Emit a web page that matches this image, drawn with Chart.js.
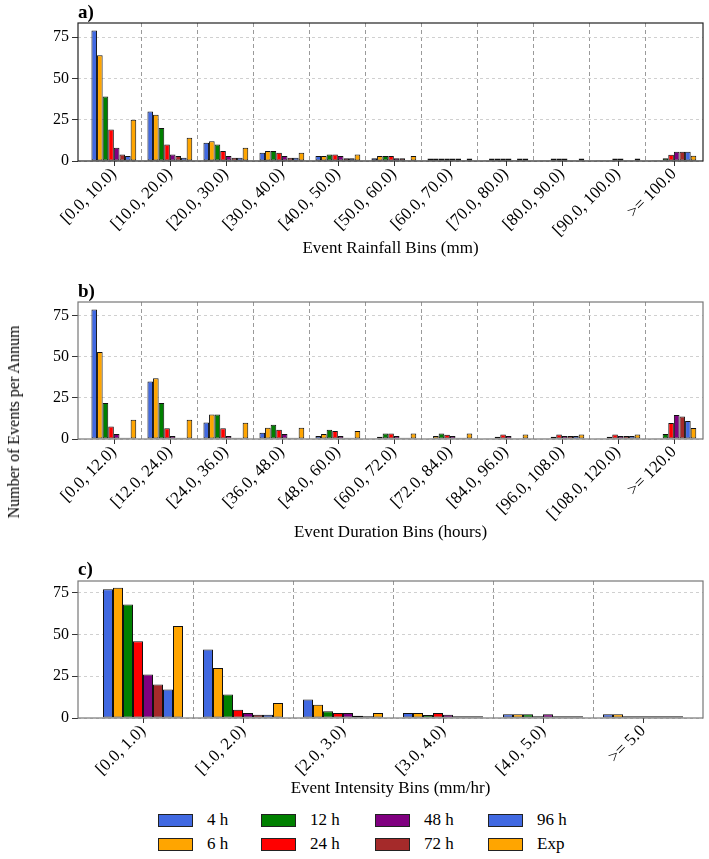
<!DOCTYPE html>
<html>
<head>
<meta charset="utf-8">
<script src="https://cdn.jsdelivr.net/npm/chart.js@4.4.1/dist/chart.umd.min.js"></script>
<style>
  body { margin: 0; background: #fff; font-family: "Liberation Serif", "Times New Roman", serif; }
  #page { position: relative; width: 709px; height: 859px; overflow: hidden; }
  .panel { position: absolute; left: 0; width: 709px; }
  .tag { position: absolute; left: 78px; font-weight: bold; font-size: 19px; color: #000; }
  #ylabel { position: absolute; left: 14px; top: 422px; transform: translate(-50%, -50%) rotate(-90deg);
    font-size: 16px; white-space: nowrap; color: #000; }
  #legend { position: absolute; left: 0; top: 808px; width: 709px; height: 50px; }
  .item { position: absolute; display: flex; align-items: center; font-size: 17px; line-height: 20px; color: #000; }
  .swatch { width: 33px; height: 11px; border: 1px solid #222; margin-right: 14px; }
</style>
</head>
<body>
<div id="page">
  <div class="panel" style="top:0px;height:261px"><canvas id="chartA"></canvas></div>
  <div class="panel" style="top:280px;height:265px"><canvas id="chartB"></canvas></div>
  <div class="panel" style="top:560px;height:241px"><canvas id="chartC"></canvas></div>
  <div class="tag" style="top:1px">a)</div>
  <div class="tag" style="top:280px">b)</div>
  <div class="tag" style="top:558px">c)</div>
  <div id="ylabel">Number of Events per Annum</div>
  <div id="legend"></div>
</div>
<script>
// series (same for all three panels)
const seriesNames = ['4 h', '6 h', '12 h', '24 h', '48 h', '72 h', '96 h', 'Exp'];
const seriesColors = ['#4169E1', '#FFA500', '#008000', '#FF0000', '#800080', '#A52A2A', '#4169E1', '#FFA500'];

// a) rainfall bins
const rainfallBins = ['[0.0, 10.0)', '[10.0, 20.0)', '[20.0, 30.0)', '[30.0, 40.0)', '[40.0, 50.0)',
  '[50.0, 60.0)', '[60.0, 70.0)', '[70.0, 80.0)', '[80.0, 90.0)', '[90.0, 100.0)', '>= 100.0'];
const rainfallCounts = [
  [79, 30, 11, 5, 3, 1.6, 1.5, 0.5, 0.5, 0.5, 0.5],
  [64, 28, 12, 6, 3, 3, 1.5, 1.5, 0.5, 0.5, 0.5],
  [39, 20, 10, 6, 4, 3, 1.5, 1.5, 1.5, 0.5, 1.6],
  [19, 10, 6, 5, 4, 3, 1.5, 1.5, 1.5, 1.5, 3.8],
  [8, 4, 3, 3, 3, 1.6, 1.5, 1.5, 1.5, 1.5, 5.6],
  [4, 3, 2, 2, 1.6, 1.6, 1.5, 0.5, 0.5, 0.5, 5.6],
  [3, 2, 2, 2, 1.6, 0.5, 0.5, 1.5, 0.5, 0.5, 5.6],
  [25, 14, 8, 5, 4, 3, 1.5, 1.5, 1.5, 1.5, 3.2]
];

// b) duration bins
const durationBins = ['[0.0, 12.0)', '[12.0, 24.0)', '[24.0, 36.0)', '[36.0, 48.0)', '[48.0, 60.0)',
  '[60.0, 72.0)', '[72.0, 84.0)', '[84.0, 96.0)', '[96.0, 108.0)', '[108.0, 120.0)', '>= 120.0'];
const durationCounts = [
  [79, 35, 10, 3.8, 1.8, 0.4, 0.4, 0.4, 0.4, 0.4, 0.4],
  [53, 37, 15, 6.8, 3, 1.4, 1.8, 0.4, 0.4, 0.4, 0.4],
  [22, 22, 15, 8.7, 5.6, 3.4, 3.4, 1.4, 1.4, 1.4, 3],
  [7.6, 6.6, 6.6, 5.6, 4.8, 3.4, 2.6, 2.8, 2.8, 2.8, 9.7],
  [3, 1.8, 1.8, 3, 1.8, 1.8, 1.8, 1.8, 1.8, 1.8, 14.7],
  [0.8, 0.8, 0.8, 0.8, 0.8, 0.8, 0.8, 0.4, 1.8, 1.8, 13.7],
  [0.8, 0.8, 0.8, 0.8, 0.8, 0.8, 0.8, 0.4, 1.8, 1.8, 10.9],
  [11.7, 11.7, 9.9, 6.8, 4.8, 3.4, 3.4, 2.8, 2.8, 2.8, 6.7]
];

// c) intensity bins
const intensityBins = ['[0.0, 1.0)', '[1.0, 2.0)', '[2.0, 3.0)', '[3.0, 4.0)', '[4.0, 5.0)', '>= 5.0'];
const intensityCounts = [
  [77, 41, 11, 3, 2.2, 2.2],
  [78, 30, 8, 3, 2.2, 2.2],
  [68, 14, 4, 1.8, 2.2, 1],
  [46, 5, 3, 3, 1, 1],
  [26, 3, 3, 2, 2.2, 1],
  [20, 2, 1.4, 1, 1, 1],
  [17, 2, 1, 1, 1, 1],
  [55, 9, 3, 1, 1, 1]
];

const yTicks = [0, 25, 50, 75];
const serif = '"Liberation Serif", "Times New Roman", serif';

Chart.defaults.color = '#000';
Chart.defaults.font.family = serif;

// frame round the plot area and small ticks under each bin
const frameAndTicks = {
  id: 'frameAndTicks',
  afterDraw(chart, args, opts) {
    const a = chart.chartArea;
    const ctx = chart.ctx;
    const x = chart.scales.x;
    ctx.save();
    ctx.strokeStyle = '#333';
    ctx.lineWidth = 1;
    x.ticks.forEach(function (t) {
      const px = Math.round(x.getPixelForValue(t.value)) + 0.5;
      ctx.beginPath();
      ctx.moveTo(px, a.bottom);
      ctx.lineTo(px, a.bottom + 5);
      ctx.stroke();
    });
    ctx.strokeStyle = opts.color || '#333';
    ctx.lineWidth = 1.2;
    ctx.strokeRect(a.left, a.top, a.right - a.left, a.bottom - a.top);
    ctx.restore();
  }
};

function makeChart(id, labels, counts, opt) {
  const ctx = document.getElementById(id);
  const datasets = counts.map(function (vals, i) {
    return {
      label: seriesNames[i],
      data: vals.map(function (v, j) { return { x: j, y: v }; }),
      backgroundColor: seriesColors[i],
      borderColor: '#111',
      borderWidth: 1,
      borderSkipped: false,
      barPercentage: 1.0,
      categoryPercentage: 0.8
    };
  });
  return new Chart(ctx, {
    type: 'bar',
    data: { datasets: datasets },
    plugins: [frameAndTicks],
    options: {
      responsive: true,
      maintainAspectRatio: false,
      animation: false,
      layout: { padding: { top: opt.top, right: 6, left: 0, bottom: 0 } },
      plugins: {
        legend: { display: false },
        tooltip: { enabled: false },
        frameAndTicks: { color: opt.frame }
      },
      scales: {
        x: {
          type: 'linear',
          offset: false,
          min: opt.xmin,
          max: opt.xmax,
          afterBuildTicks: function (scale) {
            scale.ticks = labels.map(function (l, i) { return { value: i }; });
          },
          grid: {
            offset: true,
            // only the lines between bins
            color: function (c) {
              return (c.type !== 'tick' || c.index === 0) ? 'rgba(0,0,0,0)' : '#9a9a9a';
            },
            drawTicks: false,
            lineWidth: 1
          },
          border: { display: false, dash: [4, 3] },
          ticks: {
            autoSkip: false,
            minRotation: 45,
            maxRotation: 45,
            padding: 3,
            font: { size: 17, family: serif },
            callback: function (v) { return labels[v]; }
          },
          title: {
            display: true,
            text: opt.title,
            font: { size: 17, family: serif },
            padding: { top: 4, bottom: 2 }
          },
          afterFit: function (scale) { scale.height = opt.xh; }
        },
        y: {
          min: 0,
          max: opt.ymax,
          afterBuildTicks: function (scale) {
            scale.ticks = yTicks.map(function (v) { return { value: v }; });
          },
          grid: {
            color: '#d0d0d0',
            tickColor: '#333',
            tickBorderDash: [],
            tickLength: 6
          },
          border: { display: false, dash: [3, 3] },
          ticks: { padding: 3, font: { size: 16, family: serif } },
          afterFit: function (scale) { scale.width = 78; }
        }
      }
    }
  });
}

makeChart('chartA', rainfallBins, rainfallCounts,
  { top: 23, xh: 100, ymax: 83.5, xmin: -0.64, xmax: 10.52, title: 'Event Rainfall Bins (mm)', frame: '#222' });
makeChart('chartB', durationBins, durationCounts,
  { top: 22, xh: 106, ymax: 83.5, xmin: -0.64, xmax: 10.52, title: 'Event Duration Bins (hours)', frame: '#777' });
makeChart('chartC', intensityBins, intensityCounts,
  { top: 21, xh: 83, ymax: 82, xmin: -0.65, xmax: 5.6, title: 'Event Intensity Bins (mm/hr)', frame: '#777' });

// legend, two rows, filled column by column
const legend = document.getElementById('legend');
const colX = [158, 261, 375, 488];
seriesNames.forEach(function (name, i) {
  const item = document.createElement('div');
  item.className = 'item';
  item.style.left = colX[Math.floor(i / 2)] + 'px';
  item.style.top = (i % 2 === 0 ? 2 : 26) + 'px';
  const sw = document.createElement('span');
  sw.className = 'swatch';
  sw.style.background = seriesColors[i];
  const txt = document.createElement('span');
  txt.textContent = name;
  item.appendChild(sw);
  item.appendChild(txt);
  legend.appendChild(item);
});
</script>
</body>
</html>
